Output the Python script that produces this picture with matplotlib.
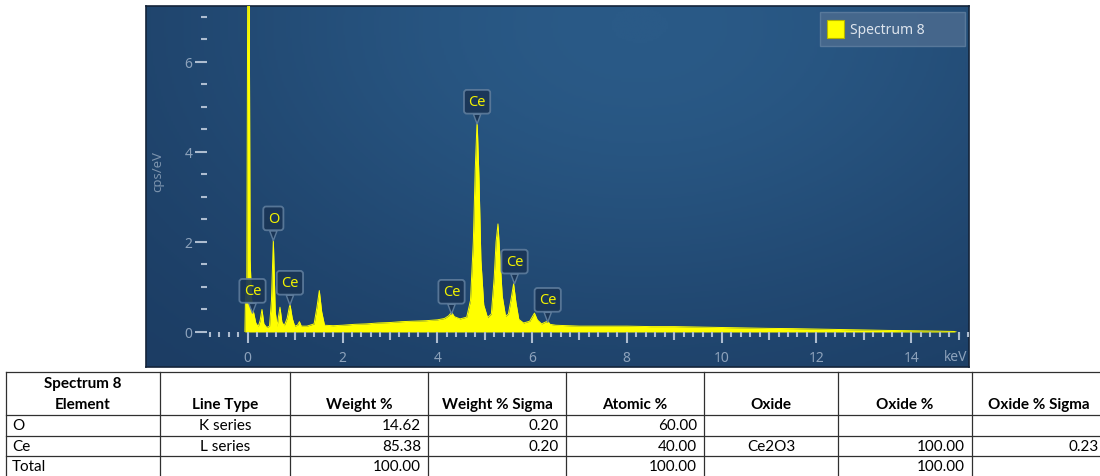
import numpy as np
import matplotlib
matplotlib.use("Agg")
from matplotlib import pyplot as plt
from matplotlib.colors import LinearSegmentedColormap
from matplotlib.ticker import MultipleLocator
from matplotlib.patches import FancyBboxPatch, Rectangle

# spectrum
energy = [-0.06, -0.05, -0.02, 0.00, 0.03, 0.05, 0.08, 0.12, 0.17, 0.22, 0.26, 0.30, 0.34, 0.40, 0.46,
          0.50, 0.54, 0.58, 0.62, 0.65, 0.68, 0.72, 0.77, 0.83, 0.89, 0.94, 0.99, 1.05, 1.09, 1.13,
          1.25, 1.40, 1.46, 1.51, 1.56, 1.62, 1.80, 2.00, 2.25, 2.50, 2.75, 3.00, 3.25, 3.50, 3.75,
          4.00, 4.15, 4.24, 4.30, 4.36, 4.48, 4.62, 4.70, 4.76, 4.80, 4.84, 4.88, 4.92, 4.98, 5.06,
          5.14, 5.20, 5.24, 5.28, 5.32, 5.37, 5.44, 5.50, 5.56, 5.61, 5.66, 5.72, 5.82, 5.95, 6.00,
          6.05, 6.11, 6.20, 6.28, 6.33, 6.38, 6.50, 6.75, 7.00, 7.50, 8.00, 8.50, 9.00, 9.50, 10.00,
          10.50, 11.00, 11.50, 12.00, 12.50, 13.00, 13.50, 14.00, 14.50, 14.90, 14.95]
cps = [0.00, 0.65, 1.10, 8.00, 8.00, 1.60, 0.75, 0.45, 0.20, 0.12, 0.25, 0.50, 0.18, 0.10, 0.13,
       0.70, 2.05, 0.45, 0.13, 0.35, 0.55, 0.22, 0.14, 0.30, 0.62, 0.30, 0.13, 0.15, 0.23, 0.13,
       0.13, 0.18, 0.55, 0.92, 0.45, 0.15, 0.14, 0.15, 0.17, 0.18, 0.20, 0.21, 0.23, 0.24, 0.25,
       0.27, 0.30, 0.36, 0.44, 0.34, 0.29, 0.33, 0.70, 2.00, 3.60, 4.70, 3.40, 1.60, 0.60, 0.32,
       0.40, 1.20, 2.00, 2.40, 1.70, 0.80, 0.35, 0.40, 0.75, 1.07, 0.65, 0.28, 0.20, 0.24, 0.33,
       0.42, 0.27, 0.18, 0.22, 0.24, 0.17, 0.15, 0.14, 0.13, 0.13, 0.13, 0.12, 0.12, 0.11, 0.10,
       0.09, 0.08, 0.075, 0.065, 0.055, 0.045, 0.035, 0.028, 0.020, 0.012, 0.00]

peak_names = ["Ce", "O", "Ce", "Ce", "Ce", "Ce", "Ce"]
peak_kev = [0.10, 0.54, 0.89, 4.30, 4.84, 5.63, 6.33]
peak_cps = [0.42, 2.03, 0.60, 0.40, 4.62, 1.07, 0.22]

legend_label = "Spectrum 8"
x_major = [0, 2, 4, 6, 8, 10, 12, 14]
x_medium = [1, 3, 5, 7, 9, 11, 13, 15]
y_major = [0, 2, 4, 6]

table_title = "Spectrum 8"
table_columns = ["Element", "Line Type", "Weight %", "Weight % Sigma", "Atomic %", "Oxide", "Oxide %", "Oxide % Sigma"]
table_rows = [
    ["O", "K series", "14.62", "0.20", "60.00", "", "", ""],
    ["Ce", "L series", "85.38", "0.20", "40.00", "Ce2O3", "100.00", "0.23"],
    ["Total", "", "100.00", "", "100.00", "", "100.00", ""],
]
col_align = ["left", "center", "right", "right", "right", "center", "right", "right"]

W, H = 1100, 477
fig = plt.figure(figsize=(W / 100, H / 100), dpi=100)


def box(x0, y0, x1, y1):
    # pixel box (top-left origin) -> figure fraction rect
    return [x0 / W, 1 - y1 / H, (x1 - x0) / W, (y1 - y0) / H]


# panel background
bg = fig.add_axes(box(146, 7, 969, 368))
gy, gx = np.mgrid[0:1:200j, 0:1:400j]
shade = np.exp(-(((gx - 0.6) / 0.6) ** 2 + ((gy - 0.05) / 0.9) ** 2))
cmap = LinearSegmentedColormap.from_list("panel", ["#1c3d64", "#2a5a87"])
bg.imshow(shade, cmap=cmap, aspect="auto", extent=(0, 1, 0, 1), origin="upper")
bg.set_xticks([])
bg.set_yticks([])
for s in bg.spines.values():
    s.set_color("#14243a")
    s.set_linewidth(1.2)

# spectrum axes
ax = fig.add_axes(box(207, 7, 969, 333))
ax.set_facecolor("none")
ax.fill_between(energy, 0, cps, color="#ffff00", lw=0)
ax.plot(energy, cps, color="#ffff00", lw=0.7)
ax.set_xlim(-0.86, 15.22)
ax.set_ylim(0, 7.24)
for s in ax.spines.values():
    s.set_visible(False)

tick_col = "#aebdd0"
lab_col = "#8da2bb"
tick_font = "Noto Sans"
ax.set_xticks(x_major)
ax.xaxis.set_minor_locator(MultipleLocator(0.2))
ax.set_yticks(y_major)
ax.yaxis.set_minor_locator(MultipleLocator(0.5))
ax.tick_params(axis="x", which="major", length=8, width=1.5, color=tick_col, pad=5,
               labelcolor=lab_col, labelsize=10)
ax.tick_params(axis="x", which="minor", length=3.6, width=1.5, color=tick_col)
ax.tick_params(axis="y", which="major", length=8.4, width=1.5, color=tick_col, pad=2,
               labelcolor=lab_col, labelsize=10)
ax.tick_params(axis="y", which="minor", length=4.3, width=1.5, color=tick_col)
for lab in ax.get_xticklabels() + ax.get_yticklabels():
    lab.set_fontfamily(tick_font)

sec = ax.secondary_xaxis("bottom")
sec.set_xticks(x_medium)
sec.spines["bottom"].set_visible(False)
sec.tick_params(axis="x", which="major", length=5.8, width=1.5, color=tick_col, labelbottom=False)
sec.xaxis.set_minor_locator(MultipleLocator(100))

ax.annotate("keV", xy=(1, 0), xycoords="axes fraction", xytext=(-1, -17.3),
            textcoords="offset points", ha="right", va="center", color=lab_col,
            fontsize=10, fontfamily=tick_font)
fig.text(158 / W, 1 - 172 / H, "cps/eV", rotation=90, ha="center", va="center",
         color="#7c93ad", fontsize=9.5, fontfamily=tick_font)

# peak callouts
for name, kx, ky in zip(peak_names, peak_kev, peak_cps):
    ax.annotate(name, xy=(kx, ky), xytext=(0, 16), textcoords="offset points",
                ha="center", va="center", color="#f2f200", fontsize=10.5, fontfamily=tick_font,
                bbox=dict(boxstyle="round,pad=0.3,rounding_size=0.2", fc="#1a3556",
                          ec="#5d7b9b", lw=1.3, alpha=0.92),
                arrowprops=dict(arrowstyle="wedge,tail_width=0.5,shrink_factor=0.5",
                                fc="#1a3556", ec="#5d7b9b", lw=1.0,
                                shrinkA=0, shrinkB=0))

# legend box
fig.add_artist(FancyBboxPatch((820 / W, 1 - 46.5 / H), 145 / W, 33.5 / H,
                              boxstyle="square,pad=0", transform=fig.transFigure,
                              fc="#4b6b8f", ec="#5f7e9f", lw=1, alpha=0.85))
fig.add_artist(Rectangle((827 / W, 1 - 38.5 / H), 17 / W, 17.5 / H, transform=fig.transFigure,
                         fc="#ffff00", ec="#b5b500", lw=0.8))
fig.text(850 / W, 1 - 30 / H, legend_label, ha="left", va="center", color="#dde4ed",
         fontsize=10, fontfamily=tick_font)

# results table
tab = fig.add_axes([0, 0, 1, 1])
tab.set_xlim(0, W)
tab.set_ylim(H, 0)
tab.axis("off")
col_edges = [6, 160, 290, 428, 566, 704, 838, 972, 1106]
row_lines = [373, 416, 437, 457]
line_col = "#303030"
for yl in row_lines:
    tab.plot([6, W], [yl, yl], color=line_col, lw=0.9)
for xl in col_edges[:-1]:
    tab.plot([xl, xl], [373, H], color=line_col, lw=0.9)

tfont = "Lato"
fs = 11
tab.text((col_edges[0] + col_edges[1]) / 2, 384.5, table_title, ha="center", va="center",
         fontsize=fs, fontweight="bold", fontfamily=tfont)
for i, name in enumerate(table_columns):
    tab.text((col_edges[i] + col_edges[i + 1]) / 2, 405.5, name, ha="center", va="center",
             fontsize=fs, fontweight="bold", fontfamily=tfont)
row_y = [426.5, 447, 467]
for r, row in enumerate(table_rows):
    for i, val in enumerate(row):
        if col_align[i] == "left":
            x = col_edges[i] + 6
        elif col_align[i] == "right":
            x = col_edges[i + 1] - 7
        else:
            x = (col_edges[i] + col_edges[i + 1]) / 2
        tab.text(x, row_y[r], val, ha=col_align[i], va="center", fontsize=fs, fontfamily=tfont)

fig.savefig("out.png", dpi=100, facecolor="white")
